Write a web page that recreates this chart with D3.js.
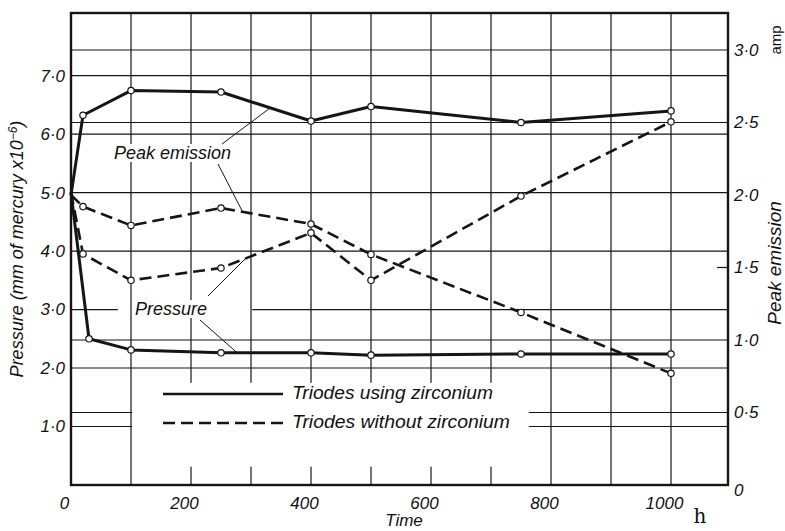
<!DOCTYPE html>
<html>
<head>
<meta charset="utf-8">
<script src="https://cdn.jsdelivr.net/npm/d3@7"></script>
<style>
  html, body { margin: 0; padding: 0; background: #fff; }
  svg { display: block; }
  text { font-family: "Liberation Sans", "DejaVu Sans", sans-serif; font-style: italic; fill: #111; }
</style>
</head>
<body>
<svg id="chart" width="785" height="531"></svg>
<script>
// ---------------- data ----------------
const timeH          = [0, 20, 100, 250, 400, 500, 750, 1000];   // hours
const timePressureZr = [0, 30, 100, 250, 400, 500, 750, 1000];   // hours
const emissionZr     = [2.00, 2.55, 2.72, 2.71, 2.51, 2.61, 2.50, 2.58]; // amp
const emissionNoZr   = [2.00, 1.92, 1.79, 1.91, 1.80, 1.59, 1.19, 0.77]; // amp
const pressureZr     = [5.00, 2.50, 2.31, 2.26, 2.26, 2.22, 2.24, 2.24]; // mm Hg x1e-6
const pressureNoZr   = [5.00, 3.95, 3.50, 3.71, 4.31, 3.50, 4.94, 6.21]; // mm Hg x1e-6

const xTicks      = [0, 200, 400, 600, 800, 1000];
const leftTicks   = [1, 2, 3, 4, 5, 6, 7];
const rightTicks  = [0, 0.5, 1.0, 1.5, 2.0, 2.5, 3.0];
const legendLabels = ["Triodes using zirconium", "Triodes without zirconium"];

// ---------------- layout ----------------
const svg = d3.select("#chart");
const L = 71, R = 728, T = 13, B = 485;

const x  = d3.scaleLinear().domain([0, 1095]).range([L, R]);
const yL = d3.scaleLinear().domain([0, 8.07]).range([B, T]);
const yR = d3.scaleLinear().domain([0, 3.255]).range([B, T]);

const ink = "#151515";
const fmt = d => d === 0 ? "0" : d.toFixed(1).replace(".", "·");

// ---------------- grid ----------------
const grid = svg.append("g").attr("stroke", ink).attr("stroke-width", 1.2).attr("fill", "none");
function hseg(y, x0, x1) { grid.append("line").attr("x1", x0).attr("x2", x1).attr("y1", y).attr("y2", y); }
function vseg(xp, y0, y1) { grid.append("line").attr("x1", xp).attr("x2", xp).attr("y1", y0).attr("y2", y1); }

// vertical grid every 100 h
const vGrid = d3.range(100, 1001, 100);
vGrid.forEach(t => {
  if (t >= 200 && t <= 700) {
    vseg(x(t), T, yL(1.75));
    vseg(x(t), yL(0.31), B);
  } else {
    vseg(x(t), T, B);
  }
});

// horizontal grid: left-scale values
leftTicks.forEach(v => {
  const y = yL(v);
  if (v === 1) { hseg(y, L, x(102)); hseg(y, x(763), R); }
  else if (v === 3) { hseg(y, L, x(78)); hseg(y, x(302), R); }
  else hseg(y, L, R);
});
// horizontal grid: right-scale values
rightTicks.forEach(v => {
  if (v === 0 || v === 2.0) return;
  const y = yR(v);
  if (v === 1.5) hseg(y, R - 11, R);
  else if (v === 0.5) { hseg(y, L, x(102)); hseg(y, x(763), R); }
  else hseg(y, L, R);
});

// ---------------- frame ----------------
svg.append("rect").attr("x", L).attr("y", T).attr("width", R - L).attr("height", B - T)
  .attr("fill", "none").attr("stroke", ink).attr("stroke-width", 2.4);

// ---------------- axes (labels only) ----------------
const axL = svg.append("g").attr("transform", `translate(${L},0)`)
  .call(d3.axisLeft(yL).tickValues(leftTicks).tickSize(0).tickPadding(6).tickFormat(fmt));
const axR = svg.append("g").attr("transform", `translate(${R},0)`)
  .call(d3.axisRight(yR).tickValues(rightTicks).tickSize(0).tickPadding(6).tickFormat(fmt));
const axB = svg.append("g").attr("transform", `translate(0,${B})`)
  .call(d3.axisBottom(x).tickValues(xTicks).tickSize(0).tickPadding(12).tickFormat(d3.format("d")));
[axL, axR, axB].forEach(g => {
  g.select(".domain").remove();
  g.selectAll("text").attr("font-size", 17).attr("font-family", "'Liberation Sans','DejaVu Sans',sans-serif")
    .attr("fill", ink);
});
axB.selectAll("text").attr("dx", -7);
axR.selectAll("text").filter(d => d === 0).attr("dy", "0.6em");

// ---------------- annotation label backgrounds + text (under series) ----------------
const notes = svg.append("g");
function note(txt, tx, ty) {
  const g = notes.append("g");
  const bg = g.append("rect").attr("fill", "#fff");
  const t = g.append("text").attr("x", tx).attr("y", ty).attr("font-size", 18).text(txt);
  const bb = t.node().getBBox();
  bg.attr("x", bb.x - 2).attr("y", bb.y + 1).attr("width", bb.width + 4).attr("height", bb.height - 2);
}
note("Peak emission", 114, 159);
note("Pressure", 135, 315);

// ---------------- series ----------------
function series(times, vals, scale, dashed) {
  const pts = times.map((t, i) => [x(t), scale(vals[i])]);
  svg.append("path").attr("d", d3.line()(pts)).attr("fill", "none")
    .attr("stroke", ink).attr("stroke-width", dashed ? 2.6 : 3)
    .attr("stroke-linejoin", "round")
    .attr("stroke-dasharray", dashed ? "12,6" : null);
  svg.append("g").selectAll("circle").data(pts.slice(1)).join("circle")
    .attr("cx", d => d[0]).attr("cy", d => d[1]).attr("r", 3.2)
    .attr("fill", "#fff").attr("stroke", ink).attr("stroke-width", 1.2);
}
series(timeH, emissionZr, yR, false);
series(timeH, emissionNoZr, yR, true);
series(timePressureZr, pressureZr, yL, false);
series(timeH, pressureNoZr, yL, true);

// ---------------- leader lines (end on the series segments) ----------------
function leader(x0, y0, t, tA, tB, vA, vB, sc) {
  const v = vA + (vB - vA) * (t - tA) / (tB - tA);
  svg.append("line").attr("x1", x0).attr("y1", y0).attr("x2", x(t)).attr("y2", sc(v))
    .attr("stroke", ink).attr("stroke-width", 1);
}
leader(222, 144, 332, timeH[3], timeH[4], emissionZr[3], emissionZr[4], yR);
leader(218, 164, 286, timeH[3], timeH[4], emissionNoZr[3], emissionNoZr[4], yR);
leader(208, 296, 291, timeH[3], timeH[4], pressureNoZr[3], pressureNoZr[4], yL);
leader(200, 320, 278, timePressureZr[2], timePressureZr[3], pressureZr[2], pressureZr[3], yL);

// ---------------- legend ----------------
const lg = svg.append("g");
[[394, null], [423, "12,6"]].forEach(([ly, dash], i) => {
  lg.append("line").attr("x1", 163).attr("x2", 283).attr("y1", ly).attr("y2", ly)
    .attr("stroke", ink).attr("stroke-width", 2.6).attr("stroke-dasharray", dash);
  lg.append("text").attr("x", 292).attr("y", ly + 5).attr("font-size", 19)
    .attr("textLength", i === 0 ? 201 : 218).attr("lengthAdjust", "spacingAndGlyphs")
    .text(legendLabels[i]);
});

// ---------------- axis titles ----------------
const lt = svg.append("text").attr("transform", "translate(23,249) rotate(-90)")
  .attr("text-anchor", "middle").attr("font-size", 18);
lt.append("tspan").text("Pressure (mm of mercury x10");
lt.append("tspan").attr("dy", -6).attr("font-size", 12).text("−6");
lt.append("tspan").attr("dy", 6).text(")");

svg.append("text").attr("transform", "translate(781,263) rotate(-90)")
  .attr("text-anchor", "middle").attr("font-size", 19).text("Peak emission");
svg.append("text").attr("transform", "translate(781,40) rotate(-90)")
  .attr("text-anchor", "middle").attr("font-size", 15).style("font-style", "normal").text("amp");
svg.append("text").attr("x", 404).attr("y", 526).attr("text-anchor", "middle")
  .attr("font-size", 17).text("Time");
svg.append("text").attr("x", 700).attr("y", 523).attr("text-anchor", "middle")
  .attr("font-size", 20).style("font-style", "normal")
  .style("font-family", "'DejaVu Serif', 'Liberation Serif', serif").text("h");
</script>
</body>
</html>
